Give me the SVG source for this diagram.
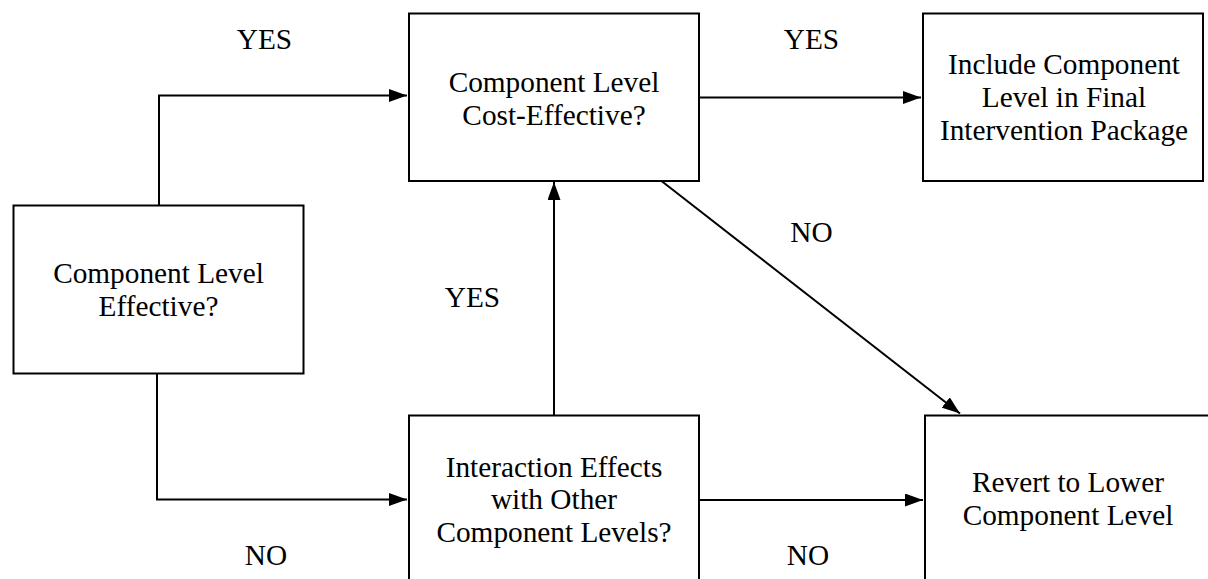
<svg xmlns="http://www.w3.org/2000/svg" width="1208" height="579" viewBox="0 0 1208 579">
<style>
.box{fill:#fff;stroke:#000;stroke-width:2}
.t{font-family:'Liberation Serif','Times New Roman','DejaVu Serif',serif;font-size:29.3px;fill:#000;text-anchor:middle}
.c{fill:none;stroke:#000;stroke-width:2}
</style>
<defs>
<marker id="ah2" markerWidth="18" markerHeight="13" refX="18" refY="6.5" orient="auto" markerUnits="userSpaceOnUse" viewBox="0 0 18 13">
<path d="M0,0 L18,6.5 L0,13 Z" fill="#000"/>
</marker>
</defs>
<g id="connectors">
<polyline class="c" points="159,205.5 159,95.5 407,95.5" marker-end="url(#ah2)"/>
<polyline class="c" points="157,373.5 157,499.5 407,499.5" marker-end="url(#ah2)"/>
<line class="c" x1="699" y1="97.5" x2="921" y2="97.5" marker-end="url(#ah2)"/>
<line class="c" x1="554" y1="415.5" x2="554" y2="182" marker-end="url(#ah2)"/>
<line class="c" x1="699" y1="500" x2="923" y2="500" marker-end="url(#ah2)"/>
<line class="c" x1="661.5" y1="181" x2="960" y2="413.5" marker-end="url(#ah2)"/>
</g>
<g id="labels" font-family="Liberation Serif, serif">
<text class="t" x="264.5" y="49">YES</text>
<text class="t" x="811.5" y="49">YES</text>
<text class="t" x="472.5" y="307">YES</text>
<text class="t" x="811.5" y="242">NO</text>
<text class="t" x="266" y="565">NO</text>
<text class="t" x="808" y="565">NO</text>
</g>
<g id="node-effective">
<rect class="box" x="13.5" y="205.5" width="290" height="168"/>
<text class="t" x="158.5" y="283">Component Level</text>
<text class="t" x="158.5" y="316">Effective?</text>
</g>
<g id="node-cost">
<rect class="box" x="409" y="13.5" width="290" height="167.5"/>
<text class="t" x="554" y="91.5">Component Level</text>
<text class="t" x="554" y="124.5">Cost-Effective?</text>
</g>
<g id="node-include">
<rect class="box" x="923" y="13.5" width="280" height="167.5"/>
<text class="t" x="1064" y="74">Include Component</text>
<text class="t" x="1064" y="107">Level in Final</text>
<text class="t" x="1064" y="140">Intervention Package</text>
</g>
<g id="node-interaction">
<rect class="box" x="409" y="415.5" width="290" height="180"/>
<text class="t" x="554" y="476.5">Interaction Effects</text>
<text class="t" x="554" y="509">with Other</text>
<text class="t" x="554" y="542">Component Levels?</text>
</g>
<g id="node-revert">
<rect class="box" x="925" y="415.5" width="290" height="180"/>
<text class="t" x="1068" y="492">Revert to Lower</text>
<text class="t" x="1068" y="525">Component Level</text>
</g>
</svg>
